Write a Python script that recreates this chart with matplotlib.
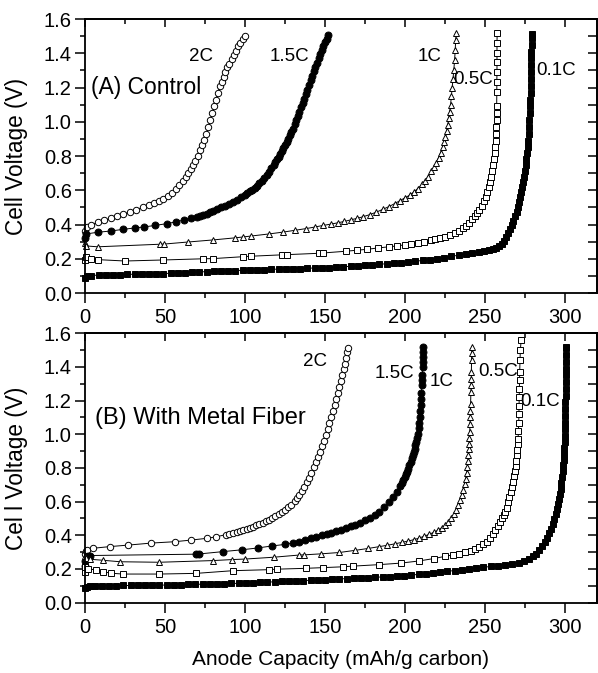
import matplotlib
matplotlib.use('Agg')
import matplotlib.pyplot as plt
from matplotlib.ticker import MultipleLocator

plt.rcParams['font.family'] = ['Liberation Sans', 'DejaVu Sans']

rates = ['2C', '1.5C', '1C', '0.5C', '0.1C']

# (A) Control -- anode capacity (mAh/g carbon) and cell voltage (V)
cap_a_2c = [0, 1.5, 4, 8, 12, 16, 20, 24, 28, 32, 36, 40, 43, 46, 49, 52, 54.5, 57, 59, 61,
            63, 64.5, 66, 67.5, 69, 70.5, 72, 73.3, 74.6, 75.8, 77, 78.2, 79.4, 80.6, 81.8, 83,
            84.2, 85.4, 86.6, 87.8, 89, 90.3, 91.6, 93, 94.4, 95.8, 97.2, 98.6, 100]
volt_a_2c = [0.36, 0.385, 0.40, 0.412, 0.425, 0.436, 0.448, 0.46, 0.474, 0.487, 0.50, 0.515, 0.526,
             0.538, 0.551, 0.568, 0.584, 0.606, 0.628, 0.652, 0.678, 0.70, 0.725, 0.75, 0.773, 0.80,
             0.836, 0.866, 0.896, 0.93, 0.97, 1.01, 1.05, 1.09, 1.13, 1.17, 1.208, 1.235, 1.262,
             1.29, 1.318, 1.34, 1.365, 1.39, 1.415, 1.44, 1.462, 1.483, 1.503]

cap_a_15c = [0, 0.8, 8, 16, 24, 31, 37, 44, 51, 57, 62, 66.5, 70, 72, 74, 76, 78, 80, 82.5, 85,
             87.5, 90, 92.5, 95, 97.5, 100, 101.5, 103, 104.5, 106, 107.5, 109, 110.5, 112, 113.5,
             115, 116.5, 118, 119, 120, 121, 122, 123, 124, 125, 126, 127, 128, 129, 130, 131, 132,
             133, 134, 135, 136, 137, 138, 139, 140, 141, 142, 143, 144, 145, 146, 147, 148, 149,
             150, 151, 152]
volt_a_15c = [0.32, 0.345, 0.355, 0.362, 0.372, 0.38, 0.386, 0.395, 0.405, 0.416, 0.427, 0.437,
              0.446, 0.452, 0.458, 0.464, 0.472, 0.48, 0.49, 0.50, 0.51, 0.52, 0.532, 0.545, 0.558,
              0.572, 0.582, 0.594, 0.603, 0.614, 0.625, 0.64, 0.656, 0.672, 0.69, 0.709, 0.728, 0.75,
              0.765, 0.78, 0.796, 0.812, 0.828, 0.845, 0.862, 0.88, 0.90, 0.92, 0.94, 0.96, 0.985,
              1.01, 1.035, 1.06, 1.085, 1.11, 1.135, 1.16, 1.188, 1.215, 1.243, 1.27, 1.295, 1.32,
              1.345, 1.37, 1.395, 1.42, 1.443, 1.465, 1.485, 1.505]

cap_a_1c = [0, 0.5, 8, 47, 49.5, 64.5, 80, 93.5, 98.5, 104, 115, 124, 131, 138, 144, 149, 154, 158,
            162, 166, 170, 174, 178, 182, 186, 190, 193.5, 197, 200, 203, 205.5, 208, 210.5, 212.5,
            214.5, 216.5, 218, 219.5, 221, 222.3, 223.5, 224.5, 225.3, 226, 226.7, 227.3, 227.9,
            228.5, 229, 229.5, 230, 230.5, 231, 231.4, 231.7, 232]
volt_a_1c = [0.29, 0.275, 0.27, 0.285, 0.286, 0.298, 0.31, 0.322, 0.327, 0.333, 0.345, 0.356, 0.366,
             0.376, 0.386, 0.395, 0.403, 0.41, 0.418, 0.427, 0.436, 0.446, 0.458, 0.472, 0.488, 0.505,
             0.522, 0.54, 0.556, 0.572, 0.59, 0.61, 0.634, 0.656, 0.68, 0.71, 0.735, 0.762, 0.79,
             0.82, 0.85, 0.88, 0.91, 0.945, 0.98, 1.02, 1.06, 1.10, 1.15, 1.20, 1.25, 1.30, 1.36,
             1.42, 1.48, 1.52]

cap_a_05c = [0, 0.5, 4, 8, 25, 49, 74, 80, 98.5, 104, 123, 126, 146, 149, 163, 170, 176, 183, 190,
             195, 200, 204, 208, 212, 216, 219, 222, 225, 228, 231, 233.5, 236, 238, 240, 242, 243.5,
             245, 246.5, 248, 249.3, 250.5, 251.5, 252.5, 253.3, 254, 254.6, 255.2, 255.7, 256.1,
             256.5, 256.8, 257, 257.1, 257.2, 257.3, 257.3, 257.4, 257.4, 257.5, 257.5, 257.5, 257.5,
             257.6]
volt_a_05c = [0.19, 0.21, 0.2, 0.195, 0.187, 0.193, 0.2, 0.201, 0.212, 0.215, 0.223, 0.224, 0.232,
              0.234, 0.244, 0.25, 0.255, 0.263, 0.27, 0.275, 0.282, 0.288, 0.293, 0.3, 0.307, 0.313,
              0.32, 0.327, 0.337, 0.35, 0.362, 0.378, 0.392, 0.41, 0.43, 0.447, 0.465, 0.485, 0.51,
              0.535, 0.56, 0.59, 0.62, 0.65, 0.68, 0.71, 0.745, 0.78, 0.815, 0.85, 0.89, 0.93, 0.97,
              1.01, 1.05, 1.09, 1.175, 1.234, 1.293, 1.351, 1.40, 1.458, 1.516]

cap_a_01c = [0, 1.5, 4, 8.5, 13, 17.5, 22, 26.5, 31, 35.5, 40, 44.5, 49, 53.5, 58, 62.5, 67, 71.5,
             76, 80.5, 85, 89.5, 94, 98.5, 103, 107.5, 112, 116.5, 121, 125.5, 130, 134.5, 139,
             143.5, 148, 152.5, 157, 161.5, 166, 170.5, 175, 179.5, 184, 188.5, 193, 197.5, 202,
             206.5, 211, 215.5, 220, 224.5, 229, 233.5, 238, 242, 246, 249.5, 252.5, 255, 257, 259,
             260.5, 262, 263.3, 264.5, 265.7, 266.8, 267.8, 268.8, 269.7, 270.5, 271.3, 272, 272.7,
             273.3, 273.9, 274.4, 274.9, 275.4, 275.8, 276.2, 276.6, 276.9, 277.2, 277.5, 277.7,
             277.9, 278.1, 278.3, 278.5, 278.6, 278.7, 278.8, 278.9, 279, 279, 279.1, 279.1, 279.2]
volt_a_01c = [0.09, 0.1, 0.102, 0.105, 0.106, 0.107, 0.108, 0.109, 0.11, 0.111, 0.112, 0.113, 0.114,
              0.115, 0.117, 0.119, 0.121, 0.123, 0.125, 0.127, 0.129, 0.13, 0.131, 0.133, 0.134,
              0.136, 0.137, 0.138, 0.14, 0.141, 0.142, 0.143, 0.145, 0.146, 0.148, 0.149, 0.151,
              0.153, 0.156, 0.159, 0.162, 0.165, 0.168, 0.171, 0.175, 0.178, 0.182, 0.186, 0.19,
              0.195, 0.2, 0.207, 0.214, 0.221, 0.228, 0.234, 0.24, 0.246, 0.252, 0.258, 0.265, 0.275,
              0.287, 0.305, 0.325, 0.348, 0.372, 0.397, 0.42, 0.447, 0.475, 0.5, 0.53, 0.56, 0.59,
              0.62, 0.65, 0.68, 0.71, 0.745, 0.78, 0.815, 0.85, 0.89, 0.93, 0.97, 1.01, 1.05, 1.09,
              1.13, 1.17, 1.21, 1.25, 1.29, 1.33, 1.37, 1.41, 1.45, 1.49, 1.515]

# (B) With metal fiber
cap_b_2c = [0, 0.5, 1.5, 5, 15.5, 27, 41.5, 56, 66.5, 76, 82, 88, 90, 92.5, 95, 97, 99, 101, 103,
            105, 107, 109, 111, 113, 115, 117, 119, 121, 123, 125, 127, 129, 131, 132.5, 134, 135.5,
            137, 138.5, 140, 141.5, 143, 144.3, 145.6, 146.9, 148.1, 149.3, 150.5, 151.7, 152.8,
            153.9, 155, 156, 157, 158, 159, 160, 160.9, 161.7, 162.5, 163.2, 163.8, 164.4]
volt_b_2c = [0.29, 0.305, 0.313, 0.323, 0.333, 0.342, 0.354, 0.362, 0.372, 0.382, 0.391, 0.404,
             0.409, 0.415, 0.421, 0.427, 0.433, 0.439, 0.445, 0.452, 0.459, 0.467, 0.475, 0.483,
             0.492, 0.502, 0.513, 0.525, 0.537, 0.55, 0.566, 0.583, 0.603, 0.62, 0.64, 0.662, 0.687,
             0.714, 0.74, 0.77, 0.803, 0.835, 0.865, 0.897, 0.93, 0.962, 0.995, 1.03, 1.065, 1.1,
             1.14, 1.175, 1.21, 1.245, 1.28, 1.315, 1.35, 1.385, 1.42, 1.455, 1.488, 1.515]

cap_b_15c = [0, 0.3, 1, 2, 3, 69.6, 71, 86, 98, 108, 117, 125, 130, 134, 137.5, 141, 144.5, 148,
             151, 154, 157, 160, 163, 166, 169, 172, 175, 178, 181, 184, 187, 190, 192.5, 195, 197,
             198, 199, 199.8, 200.5, 201.3, 202, 202.8, 203.5, 204.3, 205, 205.5, 206, 206.5, 207,
             207.5, 208, 208.5, 209, 209.3, 209.6, 209.9, 210.1, 210.3, 210.5, 210.6, 210.8, 211,
             211.1, 211.2, 211.3, 211.4]
volt_b_15c = [0.22, 0.25, 0.265, 0.275, 0.28, 0.288, 0.289, 0.303, 0.314, 0.325, 0.337, 0.346,
              0.355, 0.363, 0.372, 0.382, 0.392, 0.4, 0.408, 0.416, 0.424, 0.433, 0.442, 0.453,
              0.464, 0.476, 0.489, 0.503, 0.52, 0.54, 0.566, 0.595, 0.625, 0.66, 0.695, 0.712, 0.73,
              0.746, 0.762, 0.778, 0.795, 0.815, 0.835, 0.857, 0.88, 0.897, 0.915, 0.935, 0.955,
              0.977, 1.0, 1.035, 1.07, 1.105, 1.14, 1.175, 1.21, 1.245, 1.29, 1.32, 1.35, 1.4, 1.43,
              1.46, 1.49, 1.52]

cap_b_1c = [0, 0.5, 3, 11, 22, 46.5, 80, 92, 100, 118, 134, 137, 147.5, 159, 169, 177, 184, 189,
            194, 198, 202, 205.5, 209, 212, 215, 218, 220.5, 223, 225, 227, 229, 230.7, 232, 233.3,
            234.5, 235.5, 236.4, 237.2, 237.9, 238.5, 238.9, 239.3, 239.6, 239.9, 240.1, 240.3,
            240.5, 240.6, 240.8, 240.9, 241, 241.2, 241.3, 241.4, 241.5, 241.6, 241.7, 241.8]
volt_b_1c = [0.28, 0.265, 0.258, 0.252, 0.243, 0.24, 0.25, 0.256, 0.259, 0.27, 0.283, 0.284, 0.29,
             0.298, 0.311, 0.322, 0.333, 0.341, 0.35, 0.358, 0.366, 0.374, 0.384, 0.395, 0.405,
             0.418, 0.43, 0.445, 0.46, 0.478, 0.5, 0.525, 0.55, 0.578, 0.608, 0.638, 0.67, 0.702,
             0.735, 0.77, 0.805, 0.84, 0.875, 0.91, 0.945, 0.98, 1.015, 1.06, 1.1, 1.14, 1.18, 1.25,
             1.29, 1.33, 1.37, 1.44, 1.48, 1.52]

cap_b_05c = [0, 0.3, 2, 7, 11, 16.5, 23.5, 46.5, 69.5, 92.5, 115, 120, 138, 148.5, 161, 167.5, 184,
             197.5, 209, 218, 225, 230, 234, 237.5, 241, 244, 246.5, 249, 251, 253, 254.8, 256.5,
             258, 259.3, 260.5, 261.6, 262.6, 263.5, 264.4, 265.2, 266, 266.7, 267.4, 268, 268.6,
             269.1, 269.5, 269.9, 270.2, 270.5, 270.7, 270.9, 271.1, 271.2, 271.3, 271.4, 271.5,
             271.6, 271.7, 271.9, 272.1, 272.6]
volt_b_05c = [0.185, 0.21, 0.2, 0.195, 0.184, 0.175, 0.17, 0.17, 0.174, 0.19, 0.196, 0.199, 0.204,
              0.208, 0.213, 0.217, 0.226, 0.235, 0.248, 0.262, 0.275, 0.284, 0.292, 0.299, 0.307,
              0.318, 0.33, 0.346, 0.362, 0.382, 0.405, 0.43, 0.455, 0.48, 0.505, 0.52, 0.54, 0.565,
              0.595, 0.625, 0.655, 0.685, 0.715, 0.75, 0.78, 0.81, 0.84, 0.875, 0.905, 0.94, 0.975,
              1.02, 1.07, 1.12, 1.17, 1.22, 1.27, 1.32, 1.37, 1.44, 1.5, 1.56]

cap_b_01c = [0, 1, 3, 6, 10.5, 15, 19.5, 24, 28.5, 33, 37.5, 42, 46.5, 51, 55.5, 60, 64.5, 69, 73.5,
             78, 82.5, 87, 91.5, 96, 100.5, 105, 109.5, 114, 118.5, 123, 127.5, 132, 136.5, 141,
             145.5, 150, 154.5, 159, 163.5, 168, 172.5, 177, 181.5, 186, 190.5, 195, 199.5, 204,
             208.5, 213, 217.5, 222, 226.5, 231, 235.5, 240, 244.5, 249, 253.5, 258, 262.5, 267, 271,
             274.5, 277.5, 280, 282, 284, 285.7, 287.2, 288.6, 289.9, 291.1, 292.2, 293.2, 294.1,
             294.9, 295.6, 296.2, 296.8, 297.3, 297.8, 298.2, 298.6, 298.9, 299.2, 299.4, 299.6,
             299.8, 299.9, 300, 300.1, 300.2, 300.3, 300.3, 300.4, 300.4, 300.5, 300.5, 300.6,
             300.6, 300.7, 300.7, 300.7]
volt_b_01c = [0.085, 0.095, 0.098, 0.1, 0.1, 0.101, 0.101, 0.102, 0.102, 0.103, 0.103, 0.104, 0.104,
              0.105, 0.106, 0.107, 0.108, 0.109, 0.11, 0.111, 0.112, 0.113, 0.114, 0.115, 0.116,
              0.118, 0.12, 0.122, 0.124, 0.126, 0.127, 0.129, 0.131, 0.133, 0.135, 0.137, 0.139,
              0.141, 0.143, 0.145, 0.147, 0.149, 0.151, 0.153, 0.155, 0.158, 0.161, 0.164, 0.168,
              0.172, 0.177, 0.181, 0.186, 0.191, 0.196, 0.2, 0.205, 0.21, 0.215, 0.22, 0.226, 0.232,
              0.238, 0.246, 0.258, 0.275, 0.292, 0.315, 0.338, 0.362, 0.387, 0.413, 0.44, 0.467,
              0.495, 0.525, 0.555, 0.585, 0.615, 0.645, 0.675, 0.71, 0.745, 0.78, 0.815, 0.85, 0.885,
              0.92, 0.955, 0.99, 1.03, 1.07, 1.11, 1.15, 1.19, 1.23, 1.27, 1.31, 1.35, 1.39, 1.43,
              1.47, 1.51, 1.52]

# rate label positions (capacity, voltage)
label_pos_a = [(72.7, 1.38), (128, 1.38), (215.4, 1.38), (242.5, 1.245), (294.6, 1.30)]
label_pos_b = [(143.6, 1.43), (193.6, 1.362), (223, 1.312), (258, 1.37), (284.5, 1.194)]

# marker, face colour, marker size for each rate
styles = [('o', 'white', 4.6), ('o', 'black', 5.0), ('^', 'white', 5.0),
          ('s', 'white', 4.2), ('s', 'black', 4.6)]


def draw_panel(ax, curves, label_pos, title, title_xy, title_size, ylabel):
    for (cap, volt), (mk, face, size) in zip(curves, styles):
        ax.plot(cap, volt, color='black', lw=0.7, marker=mk, ms=size, mfc=face,
                mec='black', mew=0.7, clip_on=False)
    for rate, (x, y) in zip(rates, label_pos):
        ax.text(x, y, rate, ha='center', va='center', fontsize=13.5)
    ax.text(title_xy[0], title_xy[1], title, ha='left', va='center', fontsize=title_size)

    ax.set_xlim(0, 320)
    ax.set_ylim(0, 1.6)
    ax.xaxis.set_major_locator(MultipleLocator(50))
    ax.xaxis.set_minor_locator(MultipleLocator(25))
    ax.yaxis.set_major_locator(MultipleLocator(0.2))
    ax.yaxis.set_minor_locator(MultipleLocator(0.1))
    ax.yaxis.set_major_formatter(lambda v, p: f'{v:.1f}')
    ax.tick_params(axis='both', which='major', direction='out', length=7, width=1.1,
                   labelsize=14.5)
    ax.tick_params(axis='both', which='minor', direction='out', length=3.5, width=1.1)
    ax.tick_params(axis='x', pad=4)
    ax.tick_params(axis='y', pad=2.5)

    top = ax.secondary_xaxis('top')
    top.xaxis.set_major_locator(MultipleLocator(50))
    top.xaxis.set_minor_locator(MultipleLocator(25))
    top.tick_params(axis='x', which='major', direction='in', length=5.5, width=1.1,
                    labeltop=False)
    top.tick_params(axis='x', which='minor', direction='in', length=3.5, width=1.1)
    right = ax.secondary_yaxis('right')
    right.yaxis.set_major_locator(MultipleLocator(0.2))
    right.yaxis.set_minor_locator(MultipleLocator(0.1))
    right.tick_params(axis='y', which='both', direction='in', length=6.5, width=1.1,
                      labelright=False)
    for axis in (ax, top, right):
        for sp in axis.spines.values():
            sp.set_linewidth(1.3)

    ax.set_ylabel(ylabel, fontsize=16.3)
    ax.yaxis.set_label_coords(-0.111, 0.5)


fig = plt.figure(figsize=(5.98, 6.73), dpi=100)
ax_a = fig.add_axes([0.1421, 0.5646, 0.8562, 0.4071])
ax_b = fig.add_axes([0.1421, 0.1045, 0.8562, 0.4003])

curves_a = [(cap_a_2c, volt_a_2c), (cap_a_15c, volt_a_15c), (cap_a_1c, volt_a_1c),
            (cap_a_05c, volt_a_05c), (cap_a_01c, volt_a_01c)]
curves_b = [(cap_b_2c, volt_b_2c), (cap_b_15c, volt_b_15c), (cap_b_1c, volt_b_1c),
            (cap_b_05c, volt_b_05c), (cap_b_01c, volt_b_01c)]

draw_panel(ax_a, curves_a, label_pos_a, '(A) Control', (4, 1.2), 16.5, 'Cell Voltage (V)')
draw_panel(ax_b, curves_b, label_pos_b, '(B) With Metal Fiber', (6, 1.095), 17,
           'Cel l Voltage (V)')

ax_b.set_xlabel('Anode Capacity (mAh/g carbon)', fontsize=15, va='baseline')
ax_b.xaxis.set_label_coords(0.5, -0.233)

fig.savefig('out.png', dpi=100)
plt.close(fig)
